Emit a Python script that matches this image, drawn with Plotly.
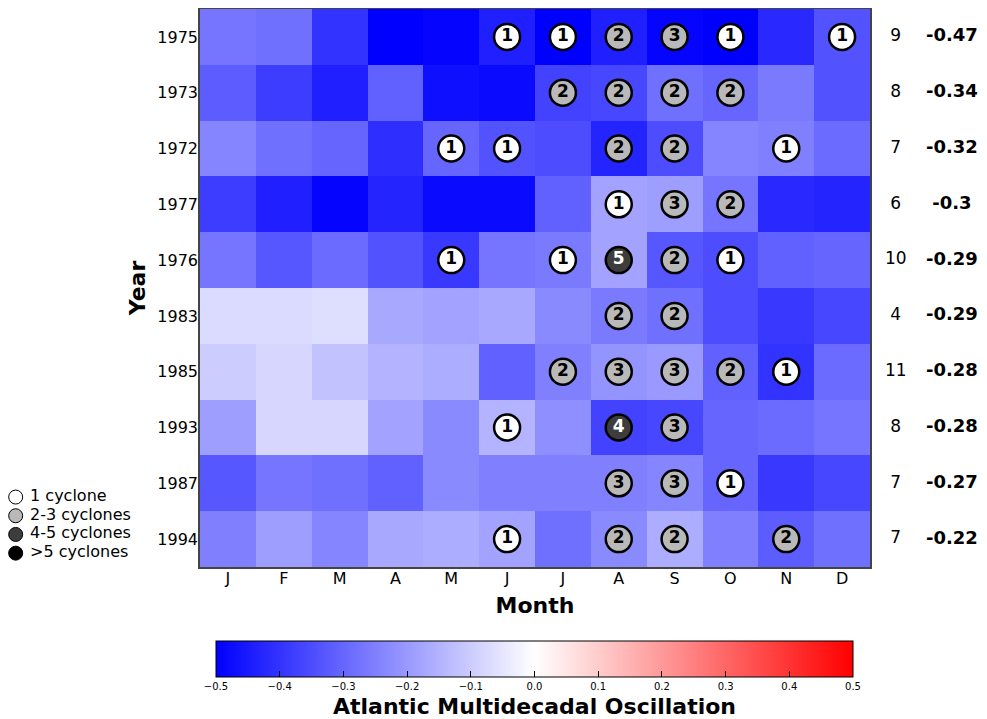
import plotly.graph_objects as go

years = ["1975", "1973", "1972", "1977", "1976", "1983", "1985", "1993", "1987", "1994"]
months = ["J", "F", "M", "A", "M", "J", "J", "A", "S", "O", "N", "D"]

amo_1975 = [-0.27, -0.28, -0.40, -0.50, -0.49, -0.44, -0.50, -0.44, -0.49, -0.50, -0.42, -0.34]
amo_1973 = [-0.32, -0.38, -0.44, -0.31, -0.47, -0.48, -0.37, -0.36, -0.28, -0.30, -0.26, -0.34]
amo_1972 = [-0.24, -0.28, -0.30, -0.41, -0.30, -0.34, -0.35, -0.43, -0.35, -0.24, -0.25, -0.29]
amo_1977 = [-0.38, -0.44, -0.49, -0.43, -0.48, -0.48, -0.31, -0.18, -0.19, -0.27, -0.42, -0.43]
amo_1976 = [-0.27, -0.33, -0.29, -0.34, -0.39, -0.27, -0.26, -0.18, -0.33, -0.35, -0.31, -0.30]
amo_1983 = [-0.07, -0.07, -0.065, -0.17, -0.18, -0.17, -0.23, -0.26, -0.28, -0.35, -0.39, -0.36]
amo_1985 = [-0.10, -0.08, -0.12, -0.15, -0.16, -0.31, -0.25, -0.21, -0.20, -0.31, -0.40, -0.29]
amo_1993 = [-0.19, -0.08, -0.08, -0.18, -0.23, -0.15, -0.22, -0.37, -0.36, -0.30, -0.29, -0.27]
amo_1987 = [-0.33, -0.27, -0.28, -0.31, -0.23, -0.25, -0.25, -0.25, -0.24, -0.30, -0.39, -0.36]
amo_1994 = [-0.25, -0.19, -0.24, -0.17, -0.16, -0.18, -0.28, -0.23, -0.16, -0.25, -0.32, -0.28]

cyc_1975 = [0, 0, 0, 0, 0, 1, 1, 2, 3, 1, 0, 1]
cyc_1973 = [0, 0, 0, 0, 0, 0, 2, 2, 2, 2, 0, 0]
cyc_1972 = [0, 0, 0, 0, 1, 1, 0, 2, 2, 0, 1, 0]
cyc_1977 = [0, 0, 0, 0, 0, 0, 0, 1, 3, 2, 0, 0]
cyc_1976 = [0, 0, 0, 0, 1, 0, 1, 5, 2, 1, 0, 0]
cyc_1983 = [0, 0, 0, 0, 0, 0, 0, 2, 2, 0, 0, 0]
cyc_1985 = [0, 0, 0, 0, 0, 0, 2, 3, 3, 2, 1, 0]
cyc_1993 = [0, 0, 0, 0, 0, 1, 0, 4, 3, 0, 0, 0]
cyc_1987 = [0, 0, 0, 0, 0, 0, 0, 3, 3, 1, 0, 0]
cyc_1994 = [0, 0, 0, 0, 0, 1, 0, 2, 2, 0, 2, 0]

total_cyclones = [9, 8, 7, 6, 10, 4, 11, 8, 7, 7]
season_amo = [-0.47, -0.34, -0.32, -0.3, -0.29, -0.29, -0.28, -0.28, -0.27, -0.22]

legend_labels = ["1 cyclone", "2-3 cyclones", "4-5 cyclones", ">5 cyclones"]

z = [amo_1975, amo_1973, amo_1972, amo_1977, amo_1976,
     amo_1983, amo_1985, amo_1993, amo_1987, amo_1994]
cyc = [cyc_1975, cyc_1973, cyc_1972, cyc_1977, cyc_1976,
       cyc_1983, cyc_1985, cyc_1993, cyc_1987, cyc_1994]

FONT = "DejaVu Sans"
cat_colors = ["#ffffff", "#b9b9b9", "#3d3d3d", "#000000"]

# the page body adds an 8px offset; the figure fills the rest of the window
OFF = 8
W, H = 987 - OFF, 719 - OFF


def px(x):
    return (x - OFF) / W


def py(y):
    return (H - (y - OFF)) / H


def cat(n):
    if n == 1:
        return 0
    if n <= 3:
        return 1
    if n <= 5:
        return 2
    return 3


mx, my, mc, mt, mtc = [], [], [], [], []
for r, row in enumerate(cyc):
    for c, n in enumerate(row):
        if n > 0:
            mx.append(c)
            my.append(r)
            k = cat(n)
            mc.append(cat_colors[k])
            mt.append("<b>%d</b>" % n)
            mtc.append("white" if k >= 2 else "black")

xi = list(range(len(months)))
yi = list(range(len(years)))

fig = go.Figure()
fig.add_trace(go.Heatmap(
    z=z, x=xi, y=yi, zmin=-0.5, zmax=0.5,
    colorscale=[[0, "rgb(0,0,255)"], [0.5, "rgb(255,255,255)"], [1, "rgb(255,0,0)"]],
    showscale=True, hoverinfo="skip",
    colorbar=dict(
        orientation="h", x=px(534.5), xanchor="center", y=py(641), yanchor="top",
        len=637 / W, lenmode="fraction", thickness=36, xpad=0, ypad=0,
        outlinecolor="black", outlinewidth=1,
        tickvals=[-0.5, -0.4, -0.3, -0.2, -0.1, 0.0, 0.1, 0.2, 0.3, 0.4, 0.5],
        tickformat=".1f", ticks="inside", ticklen=6, tickcolor="black",
        tickfont=dict(family=FONT, size=10, color="black"),
        title=dict(text="<b>Atlantic Multidecadal Oscillation</b>", side="bottom",
                   font=dict(family=FONT, size=22, color="black")),
    ),
))

fig.add_trace(go.Scatter(
    x=mx, y=my, mode="markers+text", text=mt, showlegend=False,
    textposition="middle center",
    textfont=dict(family=FONT, size=17, color=mtc),
    marker=dict(size=26, color=mc, line=dict(color="black", width=2.5)),
    hoverinfo="skip",
))

# right-hand columns (own x axis, shared y axis)
fig.add_trace(go.Scatter(
    x=[0.22] * len(years), y=yi, xaxis="x3", yaxis="y", mode="text",
    text=[str(v) for v in total_cyclones],
    textfont=dict(family=FONT, size=17, color="black"),
    showlegend=False, hoverinfo="skip",
))
fig.add_trace(go.Scatter(
    x=[0.70] * len(years), y=yi, xaxis="x3", yaxis="y", mode="text",
    text=["<b>%s</b>" % v for v in season_amo],
    textfont=dict(family=FONT, size=18, color="black"),
    showlegend=False, hoverinfo="skip",
))

# legend drawn on its own small axes
li = list(range(len(legend_labels)))
fig.add_trace(go.Scatter(
    x=[0.04] * len(li), y=li, xaxis="x2", yaxis="y2", mode="markers",
    marker=dict(size=14, color=cat_colors, line=dict(color="black", width=1)),
    showlegend=False, hoverinfo="skip",
))
fig.add_trace(go.Scatter(
    x=[0.115] * len(li), y=li, xaxis="x2", yaxis="y2", mode="text",
    text=legend_labels, textposition="middle right",
    textfont=dict(family=FONT, size=16, color="black"),
    showlegend=False, hoverinfo="skip",
))

fig.update_layout(
    width=W, height=H,
    margin=dict(l=0, r=0, t=0, b=0, autoexpand=False),
    paper_bgcolor="white", plot_bgcolor="white",
    font=dict(family=FONT, color="black"),
    showlegend=False,
    xaxis=dict(domain=[px(200), px(870)], anchor="y",
               range=[-0.5, 11.5], tickvals=xi, ticktext=months, ticks="",
               ticklabelstandoff=-4,
               tickfont=dict(family=FONT, size=16), showgrid=False, zeroline=False,
               showline=True, mirror=True, linecolor="#444", linewidth=1.5,
               title=dict(text="<b>Month</b>", font=dict(family=FONT, size=22), standoff=11)),
    yaxis=dict(domain=[py(567), py(9)], anchor="x",
               range=[9.5, -0.5], tickvals=yi, ticktext=years, ticks="",
               ticklabelstandoff=-3,
               tickfont=dict(family=FONT, size=16), showgrid=False, zeroline=False,
               showline=True, mirror=True, linecolor="#444", linewidth=1.5,
               title=dict(text="<b>Year</b>", font=dict(family=FONT, size=22), standoff=6)),
    xaxis2=dict(domain=[0, px(200)], range=[0, 1], anchor="y2", visible=False),
    yaxis2=dict(domain=[py(562.5), py(487.7)], range=[3.5, -0.5],
                anchor="x2", visible=False),
    xaxis3=dict(domain=[px(870), 1.0], range=[0, 1], anchor="y", visible=False),
)

fig.write_html("out.html")
